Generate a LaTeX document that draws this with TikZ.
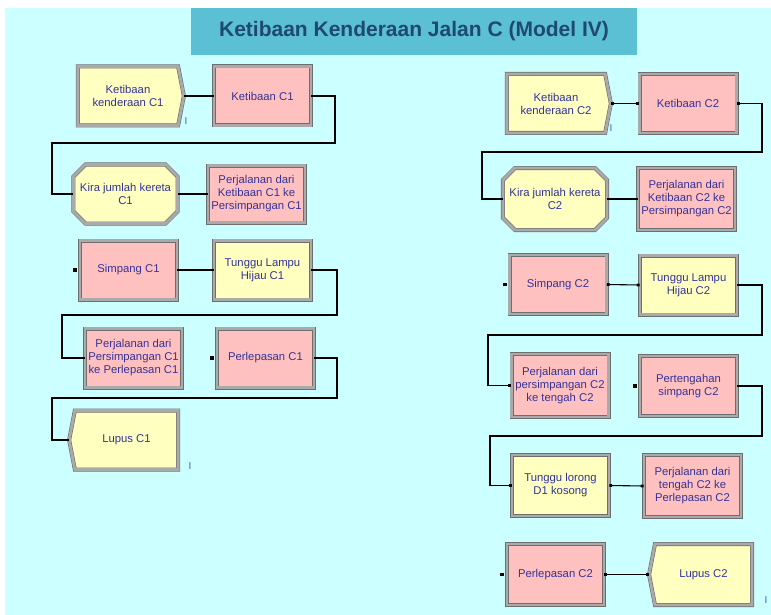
\documentclass[tikz,border=0pt]{standalone}
\usepackage{fontspec}
\setmainfont{Liberation Sans}
\usetikzlibrary{shapes.symbols,shapes.misc,arrows.meta}
\definecolor{bgcyan}{RGB}{204,255,255}
\definecolor{titlecyan}{RGB}{91,192,212}
\definecolor{titleblue}{RGB}{31,73,110}
\definecolor{labelblue}{RGB}{51,51,153}
\definecolor{iblue}{RGB}{60,100,200}
\definecolor{pinkfill}{RGB}{255,192,192}
\definecolor{yellowfill}{RGB}{255,255,192}
\definecolor{bevelgray}{RGB}{110,110,110}
\definecolor{bevellight}{RGB}{170,170,170}

\begin{document}
\begin{tikzpicture}[x=1pt,y=-1pt,
    modul/.style={draw=bevelgray, double=bevellight, double distance=2.8pt, line width=0.6pt,
      text=labelblue, font=\fontsize{11.3}{13}\selectfont, align=center, inner sep=0.5pt,
      minimum width=97pt, minimum height=59pt},
    proses/.style={modul, rectangle, fill=pinkfill},
    tunggu/.style={modul, rectangle, fill=yellowfill},
    cipta/.style={modul, signal, signal to=east, signal pointer angle=158, fill=yellowfill},
    lupus/.style={modul, signal, signal to=west, signal pointer angle=158, fill=yellowfill},
    kira/.style={modul, chamfered rectangle, chamfered rectangle xsep=6pt,
      chamfered rectangle ysep=6pt, fill=yellowfill},
    link/.style={line width=1.1pt, {Square[length=2.8pt,width=2.8pt]}-{Square[length=2.8pt,width=2.8pt]}},
    masuk/.style={fill=black, inner sep=0pt, minimum size=3.2pt},
    tanda/.style={text=iblue, font=\fontsize{10}{10}\selectfont, inner sep=0pt}]

    \useasboundingbox (0,0) rectangle (771,615);
    \fill[bgcyan] (5,8) rectangle (771,615);
    \node[fill=titlecyan, minimum width=446pt, minimum height=47pt, text=titleblue,
      font=\bfseries\fontsize{21}{23}\selectfont] (judul) at (414,31.5) {Ketibaan Kenderaan Jalan C (Model IV)};

    \node[cipta, minimum width=106pt] (l1) at (128,96) {Ketibaan\\kenderaan C1};
    \node[proses] (l2) at (262.5,96) {Ketibaan C1};
    \node[kira, minimum width=101pt] (l3) at (125.5,194) {Kira jumlah kereta\\C1};
    \node[proses, minimum height=57pt] (l4) at (256.5,194) {Perjalanan dari\\Ketibaan C1 ke\\Persimpangan C1};
    \node[proses] (l5) at (128.5,270) {Simpang C1};
    \node[tunggu] (l6) at (262.5,270) {Tunggu Lampu\\Hijau C1};
    \node[proses] (l7) at (133.5,358) {Perjalanan dari\\Persimpangan C1\\ke Perlepasan C1};
    \node[proses] (l8) at (265.5,358) {Perlepasan C1};
    \node[lupus, minimum width=109pt] (l9) at (126.5,440) {Lupus C1};
    \node[masuk] (l5in) at (75,270) {};
    \node[masuk] (l8in) at (212,358) {};
    \node[tanda] (l1i) at (186,121) {I};
    \node[tanda] (l9i) at (190,466) {I};

    \coordinate (k1) at (335,143);
    \coordinate (k2) at (52,194);
    \coordinate (k3) at (337,315);
    \coordinate (k4) at (62,358);
    \coordinate (k5) at (337,398);
    \coordinate (k6) at (52,440);
    \draw[link] (l1.east) -- (l2.west);
    \draw[link] (l2.east) -| (k1) -| (k2) -- (l3.west);
    \draw[link] (l4.west) -- (l3.east);
    \draw[link] (l5.east) -- (l6.west);
    \draw[link] (l6.east) -| (k3) -| (k4) -- (l7.west);
    \draw[link] (l8.east) -| (k5) -| (k6) -- (l9.west);

    \node[cipta, minimum width=104pt] (r1) at (556,103.5) {Ketibaan\\kenderaan C2};
    \node[proses] (r2) at (688,103.5) {Ketibaan C2};
    \node[kira, minimum width=100pt, minimum height=62pt] (r3) at (555,199) {Kira jumlah kereta\\C2};
    \node[proses, minimum height=62pt] (r4) at (686.5,199) {Perjalanan dari\\Ketibaan C2 ke\\Persimpangan C2};
    \node[proses] (r5) at (558,284.5) {Simpang C2};
    \node[tunggu] (r6) at (688.5,285) {Tunggu Lampu\\Hijau C2};
    \node[proses, minimum height=63pt] (r7) at (560,385.5) {Perjalanan dari\\persimpangan C2\\ke tengah C2};
    \node[proses, minimum height=60pt] (r8) at (688.5,386) {Pertengahan\\simpang C2};
    \node[tunggu, minimum height=61pt] (r9) at (560.5,485.5) {Tunggu lorong\\D1 kosong};
    \node[proses, minimum height=62pt] (r10) at (692.5,486) {Perjalanan dari\\tengah C2 ke\\Perlepasan C2};
    \node[proses, minimum height=61pt] (r11) at (555.5,574.5) {Perlepasan C2};
    \node[lupus, minimum width=103pt, minimum height=61pt] (r12) at (703.5,574.5) {Lupus C2};
    \node[masuk] (r5in) at (505,284.5) {};
    \node[masuk] (r8in) at (635,386) {};
    \node[masuk] (r11in) at (502,574.5) {};
    \node[tanda] (r1i) at (611,128) {I};
    \node[tanda] (r12i) at (766,600) {I};

    \coordinate (k7) at (762,152);
    \coordinate (k8) at (482,199);
    \coordinate (k9) at (762,335);
    \coordinate (k10) at (488,385.5);
    \coordinate (k11) at (762,436);
    \coordinate (k12) at (490,485.5);
    \draw[link] (r1.east) -- (r2.west);
    \draw[link] (r2.east) -| (k7) -| (k8) -- (r3.west);
    \draw[link] (r4.west) -- (r3.east);
    \draw[link] (r5.east) -- (r6.west);
    \draw[link] (r6.east) -| (k9) -| (k10) -- (r7.west);
    \draw[link] (r8.east) -| (k11) -| (k12) -- (r9.west);
    \draw[link] (r9.east) -- (r10.west);
    \draw[link] (r11.east) -- (r12.west);
\end{tikzpicture}
\end{document}
